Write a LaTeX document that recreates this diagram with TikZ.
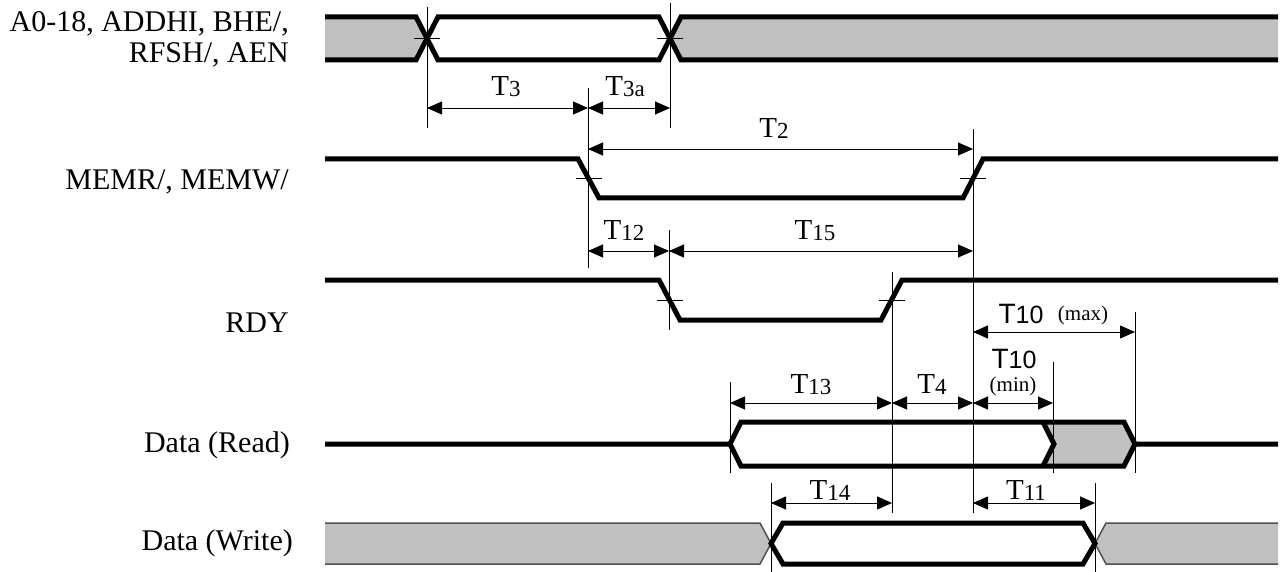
\documentclass[tikz,border=0pt]{standalone}
\usepackage{fontspec}
\setmainfont{Liberation Serif}
\newfontfamily\sansfam{Liberation Sans}
\usetikzlibrary{arrows.meta,calc}
\definecolor{busgray}{HTML}{C0C0C0}
\definecolor{busedge}{HTML}{505050}
% timing label: serif T with lowered digits
\newcommand{\tname}[1]{T\raisebox{-1pt}{\fontsize{23}{23}\selectfont #1}}
% sans T10 label
\newcommand{\tsans}{{\sansfam\fontsize{28}{28}\selectfont T\fontsize{25}{25}\selectfont 10}}

\begin{document}
\begin{tikzpicture}[x=1pt,y=-1pt,
    sig/.style={line width=5pt,line join=miter},
    busline/.style={line width=1.5pt,busedge},
    refline/.style={line width=1pt},
    dim/.style={line width=0.9pt,{Triangle[length=15pt,width=13pt]}-{Triangle[length=15pt,width=13pt]}},
    sigtxt/.style={font=\fontsize{30}{31}\selectfont,anchor=base east,inner sep=0pt},
    tlab/.style={font=\fontsize{29}{29}\selectfont,anchor=base,inner sep=0pt},
    small/.style={font=\fontsize{21}{21}\selectfont,anchor=base,inner sep=0pt}]
  \useasboundingbox (0,0) rectangle (1285,572);

  % signal names
  \node[sigtxt] (addrlbla) at (289,32) {A0-18, ADDHI, BHE/,};
  \node[sigtxt] (addrlblb) at (289,63) {RFSH/, AEN};
  \node[sigtxt] (memlbl) at (289,190) {MEMR/, MEMW/};
  \node[sigtxt] (rdylbl) at (289,332) {RDY};
  \node[sigtxt] (rdlbl) at (290,452) {Data (Read)};
  \node[sigtxt] (wrlbl) at (293,550) {Data (Write)};

  % gray (invalid) areas
  \fill[busgray] (325,17) -- (416,17) -- (427,38.5) -- (416,60) -- (325,60) -- cycle;
  \fill[busgray] (1278,17) -- (681,17) -- (670,38.5) -- (681,60) -- (1278,60) -- cycle;
  \fill[busgray] (1043,422) -- (1054,444) -- (1043,466) -- (1124,466) -- (1135,444) -- (1124,422) -- cycle;
  \fill[busgray] (325,523) -- (760,523) -- (771,543.5) -- (760,564) -- (325,564) -- cycle;
  \fill[busgray] (1278,523) -- (1106,523) -- (1095,543.5) -- (1106,564) -- (1278,564) -- cycle;
  \draw[busline] (325,523) -- (760,523) -- (771,543.5) -- (760,564) -- (325,564);
  \draw[busline] (1278,523) -- (1106,523) -- (1095,543.5) -- (1106,564) -- (1278,564);

  % waveforms
  \draw[sig] (325,17) -- (416,17) -- (438,60) -- (659,60) -- (681,17) -- (1278,17);
  \draw[sig] (325,60) -- (416,60) -- (438,17) -- (659,17) -- (681,60) -- (1278,60);
  \draw[sig] (325,159) -- (578,159) -- (599,198) -- (963,198) -- (983,159) -- (1278,159);
  \draw[sig] (325,280) -- (659,280) -- (680,320) -- (881,320) -- (902,280) -- (1278,280);
  \draw[sig] (325,444) -- (730,444) -- (741,422) -- (1124,422) -- (1135,444) -- (1278,444);
  \draw[sig] (730,444) -- (741,466) -- (1124,466) -- (1135,444);
  \draw[sig] (1043,422) -- (1054,444) -- (1043,466);
  \draw[sig] (771,543.5) -- (783,523) -- (1083,523) -- (1095,543.5) -- (1083,564) -- (783,564) -- cycle;

  % crossing ticks
  \foreach \x/\y in {427/38.5,670/38.5,588.5/178.5,973/178.5,669.5/300,891.5/300}
    \draw[refline] (\x-13,\y) -- (\x+13,\y);

  % reference lines
  \foreach \n/\x/\ya/\yb in {a0/427/7/128,a1/670/3/128,mf/588/88/268,mr/973/129/513,
      rf/669/230/330,rr/892/272/513,dz/1135/312/473,dh/1053/362/473,dv/730/382/473,
      ws/771/483/572,we/1095/483/572}{
    \coordinate (\n t) at (\x,\ya);
    \coordinate (\n b) at (\x,\yb);
    \draw[refline] (\n t) -- (\n b);
  }

  % timing arrows
  \draw[dim] (a0t |- 0,108) -- (mft |- 0,108);
  \draw[dim] (mft |- 0,108) -- (a1t |- 0,108);
  \draw[dim] (mft |- 0,149) -- (mrt |- 0,149);
  \draw[dim] (mft |- 0,251) -- (rft |- 0,251);
  \draw[dim] (rft |- 0,251) -- (mrt |- 0,251);
  \draw[dim] (mrt |- 0,332) -- (dzt |- 0,332);
  \draw[dim] (dvt |- 0,403) -- (rrt |- 0,403);
  \draw[dim] (rrt |- 0,403) -- (mrt |- 0,403);
  \draw[dim] (mrt |- 0,403) -- (dht |- 0,403);
  \draw[dim] (wst |- 0,503) -- (rrt |- 0,503);
  \draw[dim] (mrt |- 0,503) -- (wet |- 0,503);

  % timing labels
  \node[tlab] (t3) at (506,96) {\tname{3}};
  \node[tlab] (t3a) at (625,96) {\tname{3a}};
  \node[tlab] (t2) at (774,138) {\tname{2}};
  \node[tlab] (t12) at (624,240) {\tname{12}};
  \node[tlab] (t15) at (815,240) {\tname{15}};
  \node[anchor=base,inner sep=0pt] (t10max) at (1021,323) {\tsans};
  \node[small] (maxlbl) at (1083,320) {(max)};
  \node[anchor=base,inner sep=0pt] (t10min) at (1014,368) {\tsans};
  \node[small] (minlbl) at (1013,391) {(min)};
  \node[tlab] (t13) at (811,393) {\tname{13}};
  \node[tlab] (t4) at (932,393) {\tname{4}};
  \node[tlab] (t14) at (830,499) {\tname{14}};
  \node[tlab] (t11) at (1026,499) {\tname{11}};
\end{tikzpicture}
\end{document}
